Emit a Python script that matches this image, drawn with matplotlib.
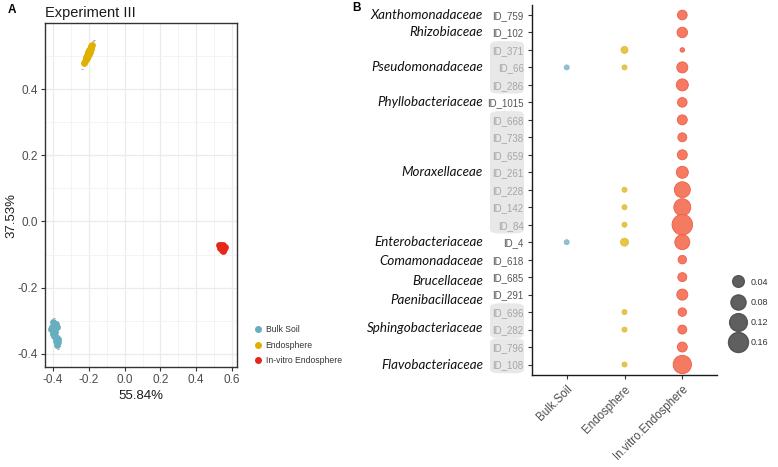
import numpy as np
import matplotlib
matplotlib.use('Agg')
import matplotlib.pyplot as plt
from matplotlib.lines import Line2D
from matplotlib.patches import FancyBboxPatch
import matplotlib.transforms as mtransforms

plt.rcParams['font.family'] = ['Liberation Sans', 'DejaVu Sans']

# ---- panel A data (PCoA coordinates) ----
bulk_x = [-0.400, -0.385, -0.405, -0.390, -0.378, -0.400, -0.388, -0.395, -0.382, -0.370, -0.385, -0.372, -0.378, -0.410, -0.398]
bulk_y = [-0.305, -0.310, -0.318, -0.322, -0.318, -0.330, -0.335, -0.345, -0.350, -0.355, -0.360, -0.365, -0.372, -0.325, -0.340]
endo_x = [-0.226, -0.222, -0.218, -0.214, -0.210, -0.206, -0.202, -0.198, -0.194, -0.190, -0.186, -0.183, -0.215, -0.205, -0.195, -0.200, -0.210, -0.190]
endo_y = [0.478, 0.485, 0.492, 0.498, 0.503, 0.508, 0.513, 0.518, 0.522, 0.526, 0.530, 0.532, 0.490, 0.500, 0.512, 0.505, 0.495, 0.520]
vitro_x = [0.530, 0.540, 0.552, 0.560, 0.535, 0.548, 0.558, 0.542, 0.552]
vitro_y = [-0.072, -0.070, -0.072, -0.076, -0.080, -0.080, -0.084, -0.086, -0.088]
stray_x = [-0.170, -0.178, -0.236, -0.396, -0.372]
stray_y = [0.550, 0.545, 0.462, -0.292, -0.386]

groups_a = ['Bulk Soil', 'Endosphere', 'In-vitro Endosphere']
colors_a = ['#67AEBF', '#E0B000', '#E5271A']

# ---- panel B data (relative abundance) ----
otus = ['ID_759', 'ID_102', 'ID_371', 'ID_66', 'ID_286', 'ID_1015', 'ID_668', 'ID_738', 'ID_659',
        'ID_261', 'ID_228', 'ID_142', 'ID_84', 'ID_4', 'ID_618', 'ID_685', 'ID_291', 'ID_696',
        'ID_282', 'ID_796', 'ID_108']
samples = ['Bulk.Soil', 'Endosphere', 'In.vitro.Endosphere']
bulk_ab = [0, 0, 0, 0.0015, 0, 0, 0, 0, 0, 0, 0, 0, 0, 0.0015, 0, 0, 0, 0, 0, 0, 0]
endo_ab = [0, 0, 0.0075, 0.0015, 0, 0, 0, 0, 0, 0, 0.0015, 0.0015, 0.0015, 0.012, 0, 0, 0, 0.0015, 0.0015, 0, 0.0015]
vitro_ab = [0.023, 0.029, 0.0007, 0.034, 0.043, 0.022, 0.025, 0.018, 0.025, 0.043, 0.092, 0.107,
            0.17, 0.078, 0.015, 0.018, 0.034, 0.015, 0.018, 0.025, 0.13]
families = ['Xanthomonadaceae', 'Rhizobiaceae', 'Pseudomonadaceae', 'Phyllobacteriaceae', 'Moraxellaceae',
            'Enterobacteriaceae', 'Comamonadaceae', 'Brucellaceae', 'Paenibacillaceae',
            'Sphingobacteriaceae', 'Flavobacteriaceae']
family_row = [0, 1, 3, 5, 9, 13, 14.1, 15.2, 16.3, 17.9, 20]
shaded_groups = [(2, 4), (6, 12), (17, 18), (19, 20)]
size_breaks = [0.04, 0.08, 0.12, 0.16]
colors_b = ['#92BFD3', '#E8C547', '#F47A62']
edges_b = ['#8AB8CC', '#E2BC3A', '#EE5E48']


def diam_px(v):
    return 3.4 + 41.5 * np.sqrt(v)


def area_pt(v):
    return (diam_px(np.asarray(v)) / (100 / 72)) ** 2


fig = plt.figure(figsize=(7.78, 4.67), dpi=100)
W, H = 778, 467

# ================= panel A =================
axA = fig.add_axes([45 / W, 1 - 367 / H, 192 / W, 344 / H])
axA.set_xlim(-0.445, 0.628)
axA.set_ylim(-0.44, 0.6)
axA.set_xticks([-0.4, -0.2, 0.0, 0.2, 0.4, 0.6])
axA.set_yticks([-0.4, -0.2, 0.0, 0.2, 0.4])
axA.set_xticks(np.arange(-0.3, 0.6, 0.2), minor=True)
axA.set_yticks(np.arange(-0.3, 0.6, 0.2), minor=True)
axA.grid(True, which='major', color='#EBEBEB', lw=0.9)
axA.grid(True, which='minor', color='#F3F3F3', lw=0.6)
axA.set_axisbelow(True)
for s in axA.spines.values():
    s.set_color('#333333')
    s.set_linewidth(1.0)
axA.tick_params(which='major', length=3, color='#333333', labelsize=8.5, labelcolor='#4D4D4D', pad=2)
axA.tick_params(which='minor', length=0)
axA.xaxis.set_major_formatter(matplotlib.ticker.FuncFormatter(lambda v, p: f'{v:.1f}'))
axA.yaxis.set_major_formatter(matplotlib.ticker.FuncFormatter(lambda v, p: f'{v:.1f}'))

axA.scatter(stray_x, stray_y, s=2, marker='_', color='#999999', lw=0.6)
for xs, ys, c in zip([bulk_x, endo_x, vitro_x], [bulk_y, endo_y, vitro_y], colors_a):
    axA.scatter(xs, ys, s=24, color=c, lw=0)

axA.set_xlabel('55.84%', fontsize=9.5, color='#1A1A1A')
axA.xaxis.set_label_coords(0.5, -0.067)
axA.set_ylabel('37.53%', fontsize=9.5, color='#1A1A1A')
axA.yaxis.set_label_coords(-0.146, 0.44)
axA.set_title('Experiment III', loc='left', fontsize=10.5, color='#1A1A1A', pad=4)

handles_a = [Line2D([], [], marker='o', ls='', color=c, markersize=4) for c in colors_a]
fig.legend(handles_a, groups_a, loc='upper left', bbox_to_anchor=(250 / W, 1 - 322 / H),
           frameon=False, fontsize=6.2, handletextpad=0.4, labelspacing=0.75,
           handlelength=1.0, labelcolor='#333333', borderaxespad=0)

fig.text(8 / W, 1 - 10 / H, 'A', fontsize=8.5, fontweight='bold', va='center')
fig.text(352 / W, 1 - 8 / H, 'B', fontsize=8.5, fontweight='bold', va='center')

# ================= panel B =================
axB = fig.add_axes([532 / W, 1 - 375 / H, 185 / W, 370.5 / H])
rows = np.arange(len(otus))
for i, (ab, c, e) in enumerate(zip([bulk_ab, endo_ab, vitro_ab], colors_b, edges_b)):
    ab = np.array(ab)
    keep = ab > 0
    axB.scatter(np.full(keep.sum(), i), rows[keep], s=area_pt(ab[keep]), color=c,
                edgecolors=e, linewidths=0.6, zorder=3)
axB.set_xlim(-0.6, 2.6)
axB.set_ylim(len(otus) - 0.4, -0.6)
axB.set_xticks(range(len(samples)))
axB.set_xticklabels(samples, rotation=45, ha='right', rotation_mode='anchor',
                    fontsize=8.3, color='#4D4D4D')
axB.set_yticks(rows)
axB.set_yticklabels(otus, fontsize=7, color='#555555')
axB.spines['top'].set_visible(False)
axB.spines['right'].set_visible(False)
for s in ['left', 'bottom']:
    axB.spines[s].set_color('#1A1A1A')
    axB.spines[s].set_linewidth(1.0)
axB.tick_params(length=3, color='#333333', pad=3)

shaded_rows = set()
blend = mtransforms.blended_transform_factory(fig.transFigure, axB.transData)
for a, b in shaded_groups:
    shaded_rows.update(range(a, b + 1))
    box = FancyBboxPatch((490 / W, a - 0.5), 34 / W, (b - a) + 1.0,
                         boxstyle='round,pad=0,rounding_size=0.012', transform=blend,
                         facecolor='#E8E8E8', edgecolor='none', zorder=0, clip_on=False,
                         mutation_aspect=20)
    fig.add_artist(box)
for i, lab in enumerate(axB.get_yticklabels()):
    if i in shaded_rows:
        lab.set_color('#A6A6A6')

for name, r in zip(families, family_row):
    fig.text(483 / W, r, name, transform=blend, ha='right', va='center',
             fontsize=9.6, style='italic', family=['Lato', 'DejaVu Sans'], color='#111111')

handles_b = [Line2D([], [], marker='o', ls='', color='#4D4D4D', alpha=0.9,
                    markersize=diam_px(v) / (100 / 72)) for v in size_breaks]
fig.legend(handles_b, [f'{v:.2f}' for v in size_breaks], loc='upper left',
           bbox_to_anchor=(729 / W, 1 - 274 / H), frameon=False, fontsize=6.5,
           handletextpad=0.8, labelspacing=1.25, handlelength=1.2, labelcolor='#333333',
           borderaxespad=0)

fig.savefig('out.png', dpi=100)
